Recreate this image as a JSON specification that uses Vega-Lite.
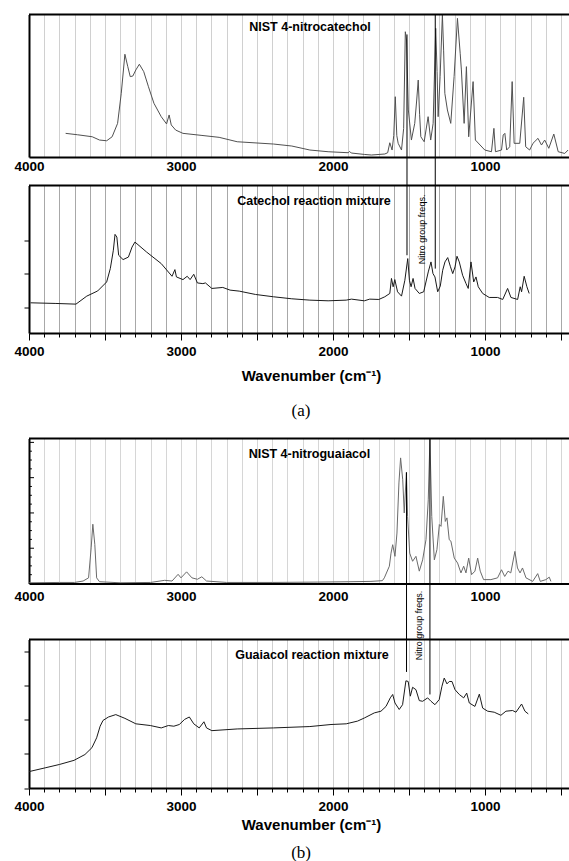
{
  "$schema": "https://vega.github.io/schema/vega-lite/v6.json",
  "background": "white",
  "padding": {"left": 13, "top": 13.5, "right": 0, "bottom": 0},
  "bounds": "flush",
  "spacing": 0,
  "config": {
    "view": {"stroke": null},
    "axis": {
      "labelFont": "Liberation Sans", "labelFontWeight": "bold", "labelFontSize": 13.5, "labelColor": "black",
      "titleFont": "Liberation Sans", "titleColor": "black", "tickColor": "black",
      "domainColor": "black", "domainWidth": 2, "gridWidth": 1, "tickCount": 100
    }
  },
  "datasets": {
    "p1": [
      {"wn": 3759, "v": 16.6}, {"wn": 3680, "v": 15.6}, {"wn": 3584, "v": 14.2}, {"wn": 3536, "v": 11.9}, {"wn": 3489, "v": 11.4},
      {"wn": 3453, "v": 14.2}, {"wn": 3417, "v": 23.6}, {"wn": 3393, "v": 44.7}, {"wn": 3369, "v": 72.1}, {"wn": 3350, "v": 63.4},
      {"wn": 3334, "v": 56.4}, {"wn": 3317, "v": 56.8}, {"wn": 3297, "v": 61.1}, {"wn": 3274, "v": 65.1}, {"wn": 3245, "v": 59.9},
      {"wn": 3214, "v": 49.3}, {"wn": 3178, "v": 37.7}, {"wn": 3130, "v": 28.3}, {"wn": 3095, "v": 23.2}, {"wn": 3078, "v": 29.5},
      {"wn": 3064, "v": 22.5}, {"wn": 3035, "v": 18.9}, {"wn": 2987, "v": 16.6}, {"wn": 2868, "v": 15.2}, {"wn": 2749, "v": 13.8},
      {"wn": 2630, "v": 10.7}, {"wn": 2391, "v": 9.1}, {"wn": 2271, "v": 7.7}, {"wn": 2152, "v": 4.9}, {"wn": 2032, "v": 3.7},
      {"wn": 1900, "v": 3.0}, {"wn": 1890, "v": 3.9}, {"wn": 1880, "v": 2.8}, {"wn": 1794, "v": 1.8}, {"wn": 1747, "v": 1.4},
      {"wn": 1659, "v": 2.1}, {"wn": 1640, "v": 3.0}, {"wn": 1626, "v": 10}, {"wn": 1611, "v": 4.9}, {"wn": 1600, "v": 15},
      {"wn": 1590, "v": 42.3}, {"wn": 1580, "v": 15}, {"wn": 1571, "v": 9.6}, {"wn": 1549, "v": 4.9}, {"wn": 1535, "v": 20},
      {"wn": 1524, "v": 87.9}, {"wn": 1516, "v": 82.1}, {"wn": 1504, "v": 33}, {"wn": 1484, "v": 11.9}, {"wn": 1462, "v": 23.6},
      {"wn": 1449, "v": 40}, {"wn": 1439, "v": 54}, {"wn": 1430, "v": 30}, {"wn": 1422, "v": 14.2}, {"wn": 1400, "v": 10.7},
      {"wn": 1374, "v": 28.3}, {"wn": 1357, "v": 11.9}, {"wn": 1341, "v": 23.6}, {"wn": 1324, "v": 90.3}, {"wn": 1315, "v": 60},
      {"wn": 1308, "v": 28.3}, {"wn": 1295, "v": 56.4}, {"wn": 1280, "v": 100}, {"wn": 1272, "v": 75}, {"wn": 1264, "v": 44.7},
      {"wn": 1247, "v": 33}, {"wn": 1225, "v": 23.6}, {"wn": 1203, "v": 56.4}, {"wn": 1181, "v": 97.3}, {"wn": 1163, "v": 72.8},
      {"wn": 1155, "v": 61.1}, {"wn": 1137, "v": 23.6}, {"wn": 1122, "v": 63.4}, {"wn": 1107, "v": 14.2}, {"wn": 1078, "v": 52.9},
      {"wn": 1063, "v": 11.9}, {"wn": 1001, "v": 4.9}, {"wn": 957, "v": 3.7}, {"wn": 941, "v": 20.1}, {"wn": 931, "v": 3.7},
      {"wn": 891, "v": 4.9}, {"wn": 880, "v": 15.4}, {"wn": 869, "v": 16.6}, {"wn": 857, "v": 4.9}, {"wn": 837, "v": 7.2},
      {"wn": 821, "v": 52.9}, {"wn": 808, "v": 9.6}, {"wn": 771, "v": 9.6}, {"wn": 745, "v": 41.9}, {"wn": 732, "v": 7.2},
      {"wn": 706, "v": 4.9}, {"wn": 684, "v": 9.6}, {"wn": 651, "v": 13.1}, {"wn": 628, "v": 8.4}, {"wn": 607, "v": 11.9},
      {"wn": 580, "v": 6.1}, {"wn": 547, "v": 16.1}, {"wn": 518, "v": 3.7}, {"wn": 475, "v": 2.5}, {"wn": 453, "v": 4.9}
    ],
    "p2": [
      {"wn": 3990, "v": 0.226}, {"wn": 3823, "v": 0.222}, {"wn": 3691, "v": 0.218}, {"wn": 3620, "v": 0.266}, {"wn": 3548, "v": 0.297},
      {"wn": 3489, "v": 0.351}, {"wn": 3465, "v": 0.431}, {"wn": 3445, "v": 0.541}, {"wn": 3434, "v": 0.636}, {"wn": 3422, "v": 0.62},
      {"wn": 3410, "v": 0.511}, {"wn": 3381, "v": 0.485}, {"wn": 3346, "v": 0.5}, {"wn": 3322, "v": 0.56}, {"wn": 3303, "v": 0.59},
      {"wn": 3226, "v": 0.53}, {"wn": 3130, "v": 0.461}, {"wn": 3059, "v": 0.385}, {"wn": 3040, "v": 0.425}, {"wn": 3030, "v": 0.381},
      {"wn": 2987, "v": 0.365}, {"wn": 2959, "v": 0.385}, {"wn": 2940, "v": 0.365}, {"wn": 2916, "v": 0.397}, {"wn": 2892, "v": 0.345},
      {"wn": 2856, "v": 0.341}, {"wn": 2839, "v": 0.345}, {"wn": 2797, "v": 0.312}, {"wn": 2725, "v": 0.318}, {"wn": 2677, "v": 0.302},
      {"wn": 2617, "v": 0.296}, {"wn": 2510, "v": 0.276}, {"wn": 2391, "v": 0.262}, {"wn": 2271, "v": 0.25}, {"wn": 2152, "v": 0.242},
      {"wn": 2032, "v": 0.238}, {"wn": 1913, "v": 0.242}, {"wn": 1878, "v": 0.248}, {"wn": 1794, "v": 0.238}, {"wn": 1758, "v": 0.248},
      {"wn": 1698, "v": 0.246}, {"wn": 1659, "v": 0.262}, {"wn": 1626, "v": 0.282}, {"wn": 1615, "v": 0.372}, {"wn": 1604, "v": 0.322},
      {"wn": 1593, "v": 0.365}, {"wn": 1575, "v": 0.292}, {"wn": 1549, "v": 0.266}, {"wn": 1527, "v": 0.361}, {"wn": 1508, "v": 0.491},
      {"wn": 1497, "v": 0.361}, {"wn": 1486, "v": 0.322}, {"wn": 1473, "v": 0.372}, {"wn": 1460, "v": 0.312}, {"wn": 1432, "v": 0.282},
      {"wn": 1403, "v": 0.292}, {"wn": 1373, "v": 0.411}, {"wn": 1355, "v": 0.471}, {"wn": 1342, "v": 0.401}, {"wn": 1329, "v": 0.381},
      {"wn": 1311, "v": 0.292}, {"wn": 1294, "v": 0.326}, {"wn": 1278, "v": 0.421}, {"wn": 1263, "v": 0.471}, {"wn": 1245, "v": 0.497},
      {"wn": 1228, "v": 0.445}, {"wn": 1212, "v": 0.401}, {"wn": 1197, "v": 0.441}, {"wn": 1184, "v": 0.505}, {"wn": 1169, "v": 0.471},
      {"wn": 1147, "v": 0.391}, {"wn": 1125, "v": 0.342}, {"wn": 1110, "v": 0.312}, {"wn": 1092, "v": 0.471}, {"wn": 1074, "v": 0.351},
      {"wn": 1059, "v": 0.381}, {"wn": 1044, "v": 0.322}, {"wn": 1015, "v": 0.282}, {"wn": 972, "v": 0.258}, {"wn": 917, "v": 0.258},
      {"wn": 883, "v": 0.246}, {"wn": 851, "v": 0.312}, {"wn": 829, "v": 0.258}, {"wn": 785, "v": 0.246}, {"wn": 768, "v": 0.322},
      {"wn": 759, "v": 0.292}, {"wn": 742, "v": 0.385}, {"wn": 724, "v": 0.322}, {"wn": 709, "v": 0.282}
    ],
    "p3": [
      {"wn": 4000, "v": 0.02}, {"wn": 3800, "v": 0.03}, {"wn": 3700, "v": 0.03}, {"wn": 3644, "v": 0.07}, {"wn": 3608, "v": 0.16},
      {"wn": 3591, "v": 1.01}, {"wn": 3580, "v": 1.68}, {"wn": 3567, "v": 1.11}, {"wn": 3555, "v": 0.16}, {"wn": 3536, "v": 0.05},
      {"wn": 3400, "v": 0.02}, {"wn": 3200, "v": 0.03}, {"wn": 3107, "v": 0.09}, {"wn": 3059, "v": 0.07}, {"wn": 3019, "v": 0.26},
      {"wn": 3000, "v": 0.16}, {"wn": 2963, "v": 0.33}, {"wn": 2928, "v": 0.16}, {"wn": 2892, "v": 0.12}, {"wn": 2863, "v": 0.19},
      {"wn": 2832, "v": 0.07}, {"wn": 2700, "v": 0.03}, {"wn": 2400, "v": 0.03}, {"wn": 2100, "v": 0.04}, {"wn": 1900, "v": 0.05},
      {"wn": 1750, "v": 0.06}, {"wn": 1675, "v": 0.08}, {"wn": 1662, "v": 0.16}, {"wn": 1629, "v": 0.49}, {"wn": 1618, "v": 0.86},
      {"wn": 1607, "v": 1.1}, {"wn": 1592, "v": 0.77}, {"wn": 1579, "v": 1.43}, {"wn": 1566, "v": 2.85}, {"wn": 1555, "v": 3.56},
      {"wn": 1541, "v": 2.94}, {"wn": 1531, "v": 2.0}, {"wn": 1517, "v": 3.15}, {"wn": 1509, "v": 1.9}, {"wn": 1495, "v": 0.86},
      {"wn": 1476, "v": 0.63}, {"wn": 1454, "v": 0.77}, {"wn": 1432, "v": 0.35}, {"wn": 1410, "v": 0.67}, {"wn": 1388, "v": 1.24},
      {"wn": 1373, "v": 2.37}, {"wn": 1362, "v": 4.09}, {"wn": 1350, "v": 1.9}, {"wn": 1333, "v": 0.67}, {"wn": 1316, "v": 0.96},
      {"wn": 1300, "v": 1.67}, {"wn": 1289, "v": 1.62}, {"wn": 1274, "v": 2.47}, {"wn": 1261, "v": 1.76}, {"wn": 1250, "v": 1.86},
      {"wn": 1235, "v": 1.24}, {"wn": 1224, "v": 1.2}, {"wn": 1202, "v": 0.72}, {"wn": 1180, "v": 0.58}, {"wn": 1158, "v": 0.3},
      {"wn": 1140, "v": 0.49}, {"wn": 1125, "v": 0.3}, {"wn": 1107, "v": 0.72}, {"wn": 1088, "v": 0.25}, {"wn": 1066, "v": 0.35},
      {"wn": 1048, "v": 0.72}, {"wn": 1031, "v": 0.35}, {"wn": 1009, "v": 0.11}, {"wn": 961, "v": 0.11}, {"wn": 917, "v": 0.16},
      {"wn": 891, "v": 0.39}, {"wn": 870, "v": 0.2}, {"wn": 848, "v": 0.35}, {"wn": 830, "v": 0.3}, {"wn": 803, "v": 0.91},
      {"wn": 786, "v": 0.44}, {"wn": 769, "v": 0.3}, {"wn": 753, "v": 0.44}, {"wn": 730, "v": 0.16}, {"wn": 686, "v": 0.06},
      {"wn": 653, "v": 0.28}, {"wn": 636, "v": 0.06}, {"wn": 599, "v": 0.11}, {"wn": 577, "v": 0.18}, {"wn": 566, "v": 0.06}
    ],
    "p3ticks": [
      {"t": 0.25}, {"t": 0.5}, {"t": 0.75}, {"t": 1}, {"t": 1.25}, {"t": 1.5}, {"t": 1.75}, {"t": 2},
      {"t": 2.25}, {"t": 2.5}, {"t": 2.75}, {"t": 3}, {"t": 3.25}, {"t": 3.5}, {"t": 3.75}, {"t": 4}
    ],
    "p4": [
      {"wn": 4000, "v": 0.48}, {"wn": 3894, "v": 0.59}, {"wn": 3799, "v": 0.69}, {"wn": 3704, "v": 0.81}, {"wn": 3632, "v": 0.98},
      {"wn": 3586, "v": 1.18}, {"wn": 3555, "v": 1.47}, {"wn": 3532, "v": 1.81}, {"wn": 3513, "v": 1.98}, {"wn": 3477, "v": 2.08},
      {"wn": 3429, "v": 2.15}, {"wn": 3369, "v": 2.04}, {"wn": 3297, "v": 1.88}, {"wn": 3202, "v": 1.83}, {"wn": 3130, "v": 1.76},
      {"wn": 3083, "v": 1.83}, {"wn": 3047, "v": 1.81}, {"wn": 3011, "v": 1.86}, {"wn": 2976, "v": 2.01}, {"wn": 2945, "v": 2.08},
      {"wn": 2916, "v": 1.88}, {"wn": 2880, "v": 1.76}, {"wn": 2849, "v": 1.94}, {"wn": 2832, "v": 1.76}, {"wn": 2797, "v": 1.68},
      {"wn": 2630, "v": 1.73}, {"wn": 2391, "v": 1.76}, {"wn": 2152, "v": 1.8}, {"wn": 2013, "v": 1.86}, {"wn": 1913, "v": 1.88},
      {"wn": 1838, "v": 1.96}, {"wn": 1794, "v": 2.05}, {"wn": 1728, "v": 2.2}, {"wn": 1684, "v": 2.25}, {"wn": 1651, "v": 2.39},
      {"wn": 1623, "v": 2.64}, {"wn": 1607, "v": 2.74}, {"wn": 1592, "v": 2.49}, {"wn": 1564, "v": 2.3}, {"wn": 1542, "v": 2.44},
      {"wn": 1520, "v": 3.14}, {"wn": 1505, "v": 3.12}, {"wn": 1491, "v": 2.69}, {"wn": 1476, "v": 2.95}, {"wn": 1454, "v": 2.88},
      {"wn": 1432, "v": 2.56}, {"wn": 1410, "v": 2.54}, {"wn": 1377, "v": 2.64}, {"wn": 1355, "v": 2.54}, {"wn": 1329, "v": 2.44},
      {"wn": 1301, "v": 2.59}, {"wn": 1283, "v": 2.98}, {"wn": 1268, "v": 3.22}, {"wn": 1250, "v": 3.05}, {"wn": 1235, "v": 3.12},
      {"wn": 1217, "v": 3.12}, {"wn": 1197, "v": 2.88}, {"wn": 1169, "v": 2.74}, {"wn": 1140, "v": 2.64}, {"wn": 1120, "v": 2.78},
      {"wn": 1103, "v": 2.49}, {"wn": 1066, "v": 2.39}, {"wn": 1037, "v": 2.75}, {"wn": 1015, "v": 2.34}, {"wn": 982, "v": 2.25},
      {"wn": 939, "v": 2.22}, {"wn": 895, "v": 2.13}, {"wn": 862, "v": 2.25}, {"wn": 818, "v": 2.27}, {"wn": 796, "v": 2.22},
      {"wn": 759, "v": 2.46}, {"wn": 737, "v": 2.25}, {"wn": 715, "v": 2.17}
    ],
    "nitro_a": [{"wn": 1513, "top1": 86, "bot2": 0.511}, {"wn": 1327, "top1": 100, "bot2": 0.431}],
    "nitro_b": [{"wn": 1516, "top3": 3.15, "bot4": 3.4}, {"wn": 1362, "top3": 4.11, "bot4": 2.74}]
  },
  "vconcat": [
    {
      "width": 540, "height": 142.5,
      "layer": [
        {
          "data": {"name": "p1"},
          "mark": {"type": "line", "color": "#505050", "strokeWidth": 1, "clip": true},
          "encoding": {
            "x": {"field": "wn", "type": "quantitative", "scale": {"domain": [447, 4000], "reverse": true, "nice": false, "zero": false},
              "axis": {"values": [4000,3900,3800,3700,3600,3500,3400,3300,3200,3100,3000,2900,2800,2700,2600,2500,2400,2300,2200,2100,2000,1900,1800,1700,1600,1500,1400,1300,1200,1100,1000,900,800,700,600,500],
                "tickCount": 100, "format": "d", "labelExpr": "datum.value % 1000 === 0 ? datum.label : ''", "labelFlush": false, "labelOverlap": false,
                "labelBaseline": "middle", "labelPadding": 9.5, "ticks": false, "tickSize": 0, "grid": true, "gridColor": "#d0d0d0", "title": null}},
            "y": {"field": "v", "type": "quantitative", "scale": {"domain": [0, 100], "nice": false, "zero": false},
              "axis": {"ticks": false, "labels": false, "grid": false, "title": null}}
          }
        },
        {"data": {"values": [{}]}, "mark": {"type": "rule", "color": "black", "strokeWidth": 2}, "encoding": {"y": {"datum": 100, "type": "quantitative"}}},
        {
          "data": {"name": "nitro_a"},
          "mark": {"type": "rule", "color": "black", "strokeWidth": 1},
          "encoding": {"x": {"field": "wn", "type": "quantitative"}, "y": {"field": "top1", "type": "quantitative"}, "y2": {"datum": 0}}
        },
        {
          "data": {"values": [{"wn": 2151, "v": 91.4, "label": "NIST 4-nitrocatechol"}]},
          "mark": {"type": "text", "font": "Liberation Sans", "fontWeight": "bold", "fontSize": 12.5, "color": "black"},
          "encoding": {"x": {"field": "wn", "type": "quantitative"}, "y": {"field": "v", "type": "quantitative"}, "text": {"field": "label", "type": "nominal"}}
        }
      ]
    },
    {
      "width": 540, "height": 28,
      "data": {"name": "nitro_a"},
      "mark": {"type": "rule", "color": "black", "strokeWidth": 1},
      "encoding": {
        "x": {"field": "wn", "type": "quantitative", "scale": {"domain": [447, 4000], "reverse": true, "nice": false, "zero": false}, "axis": null}
      }
    },
    {
      "width": 540, "height": 147.5,
      "layer": [
        {
          "data": {"name": "p2"},
          "mark": {"type": "line", "color": "#1a1a1a", "strokeWidth": 1, "clip": true},
          "encoding": {
            "x": {"field": "wn", "type": "quantitative", "scale": {"domain": [447, 4000], "reverse": true, "nice": false, "zero": false},
              "axis": {"values": [4000,3900,3800,3700,3600,3500,3400,3300,3200,3100,3000,2900,2800,2700,2600,2500,2400,2300,2200,2100,2000,1900,1800,1700,1600,1500,1400,1300,1200,1100,1000,900,800,700,600,500],
                "tickCount": 100, "format": "d", "labelExpr": "datum.value % 1000 === 0 ? datum.label : ''", "labelFlush": false, "labelOverlap": false,
                "labelBaseline": "middle", "labelPadding": 11.5, "ticks": true,
                "tickSize": {"condition": {"test": "datum.value % 500 === 0", "value": 7}, "value": 4},
                "grid": true, "gridColor": "#a8a8a8",
                "title": "Wavenumber (cm⁻¹)", "titleFontSize": 15, "titleFontWeight": "bold", "titleX": 282, "titleY": 42.5,
                "titleBaseline": "middle", "titleAlign": "center"}},
            "y": {"field": "v", "type": "quantitative", "scale": {"domain": [0.045, 0.929], "nice": false, "zero": false},
              "axis": {"values": [0.2, 0.4, 0.6], "tickCount": 100, "ticks": true, "tickSize": 5, "labels": false, "grid": false, "title": null}}
          }
        },
        {"data": {"values": [{}]}, "mark": {"type": "rule", "color": "black", "strokeWidth": 2}, "encoding": {"y": {"datum": 0.929, "type": "quantitative"}}},
        {
          "data": {"name": "nitro_a"},
          "mark": {"type": "rule", "color": "black", "strokeWidth": 1},
          "encoding": {"x": {"field": "wn", "type": "quantitative"}, "y": {"field": "bot2", "type": "quantitative"}, "y2": {"datum": 0.929}}
        },
        {
          "data": {"values": [{"wn": 1414, "v": 0.666, "label": "Nitro group freqs."}]},
          "mark": {"type": "text", "font": "Liberation Sans", "fontSize": 9, "angle": 270, "color": "black"},
          "encoding": {"x": {"field": "wn", "type": "quantitative"}, "y": {"field": "v", "type": "quantitative"}, "text": {"field": "label", "type": "nominal"}}
        },
        {
          "data": {"values": [{"wn": 2125, "v": 0.835, "label": "Catechol reaction mixture"}]},
          "mark": {"type": "text", "font": "Liberation Sans", "fontWeight": "bold", "fontSize": 12.5, "color": "black"},
          "encoding": {"x": {"field": "wn", "type": "quantitative"}, "y": {"field": "v", "type": "quantitative"}, "text": {"field": "label", "type": "nominal"}}
        }
      ]
    },
    {
      "width": 540, "height": 105,
      "data": {"values": [{"wn": 2210, "v": 0.262, "label": "(a)"}]},
      "mark": {"type": "text", "font": "Liberation Serif", "fontSize": 17, "color": "black"},
      "encoding": {
        "x": {"field": "wn", "type": "quantitative", "scale": {"domain": [447, 4000], "reverse": true, "nice": false, "zero": false}, "axis": null},
        "y": {"field": "v", "type": "quantitative", "scale": {"domain": [0, 1]}, "axis": null},
        "text": {"field": "label", "type": "nominal"}
      }
    },
    {
      "width": 540, "height": 145,
      "layer": [
        {
          "data": {"name": "p3"},
          "mark": {"type": "line", "color": "#6a6a6a", "strokeWidth": 1, "clip": true},
          "encoding": {
            "x": {"field": "wn", "type": "quantitative", "scale": {"domain": [447, 4000], "reverse": true, "nice": false, "zero": false},
              "axis": {"values": [4000,3900,3800,3700,3600,3500,3400,3300,3200,3100,3000,2900,2800,2700,2600,2500,2400,2300,2200,2100,2000,1900,1800,1700,1600,1500,1400,1300,1200,1100,1000,900,800,700,600,500],
                "tickCount": 100, "format": "d", "labelExpr": "datum.value % 1000 === 0 ? datum.label : ''", "labelFlush": false, "labelOverlap": false,
                "labelBaseline": "middle", "labelPadding": 12.5, "ticks": false, "tickSize": 0, "grid": true, "gridColor": "#d6d6d6", "title": null}},
            "y": {"field": "v", "type": "quantitative", "scale": {"domain": [0, 4.11], "nice": false, "zero": false},
              "axis": {"ticks": false, "labels": false, "grid": false, "title": null}}
          }
        },
        {"data": {"values": [{}]}, "mark": {"type": "rule", "color": "black", "strokeWidth": 2}, "encoding": {"y": {"datum": 4.11, "type": "quantitative"}}},
        {
          "data": {"name": "p3ticks"},
          "transform": [{"filter": "datum.t % 1 === 0"}],
          "mark": {"type": "rule", "color": "black", "strokeWidth": 1},
          "encoding": {"x": {"datum": 4000, "type": "quantitative"}, "x2": {"datum": 3967}, "y": {"field": "t", "type": "quantitative"}}
        },
        {
          "data": {"name": "p3ticks"},
          "transform": [{"filter": "datum.t % 1 !== 0"}],
          "mark": {"type": "rule", "color": "black", "strokeWidth": 1},
          "encoding": {"x": {"datum": 4000, "type": "quantitative"}, "x2": {"datum": 3981}, "y": {"field": "t", "type": "quantitative"}}
        },
        {
          "data": {"name": "nitro_b"},
          "mark": {"type": "rule", "color": "black", "strokeWidth": 1},
          "encoding": {"x": {"field": "wn", "type": "quantitative"}, "y": {"field": "top3", "type": "quantitative"}, "y2": {"datum": 0}}
        },
        {
          "data": {"values": [{"wn": 2155, "v": 3.66, "label": "NIST 4-nitroguaiacol"}]},
          "mark": {"type": "text", "font": "Liberation Sans", "fontWeight": "bold", "fontSize": 12.5, "color": "black"},
          "encoding": {"x": {"field": "wn", "type": "quantitative"}, "y": {"field": "v", "type": "quantitative"}, "text": {"field": "label", "type": "nominal"}}
        }
      ]
    },
    {
      "width": 540, "height": 55.5,
      "layer": [
        {
          "data": {"name": "nitro_b"},
          "mark": {"type": "rule", "color": "black", "strokeWidth": 1},
          "encoding": {
            "x": {"field": "wn", "type": "quantitative", "scale": {"domain": [447, 4000], "reverse": true, "nice": false, "zero": false}, "axis": null}
          }
        },
        {
          "data": {"values": [{"wn": 1434, "v": 0.243, "label": "Nitro group freqs."}]},
          "mark": {"type": "text", "font": "Liberation Sans", "fontSize": 9, "angle": 270, "color": "black"},
          "encoding": {
            "x": {"field": "wn", "type": "quantitative"},
            "y": {"field": "v", "type": "quantitative", "scale": {"domain": [0, 1]}, "axis": null},
            "text": {"field": "label", "type": "nominal"}
          }
        }
      ]
    },
    {
      "width": 540, "height": 148.5,
      "layer": [
        {
          "data": {"name": "p4"},
          "mark": {"type": "line", "color": "#1a1a1a", "strokeWidth": 1, "clip": true},
          "encoding": {
            "x": {"field": "wn", "type": "quantitative", "scale": {"domain": [447, 4000], "reverse": true, "nice": false, "zero": false},
              "axis": {"values": [4000,3900,3800,3700,3600,3500,3400,3300,3200,3100,3000,2900,2800,2700,2600,2500,2400,2300,2200,2100,2000,1900,1800,1700,1600,1500,1400,1300,1200,1100,1000,900,800,700,600,500],
                "tickCount": 100, "format": "d", "labelExpr": "datum.value % 1000 === 0 ? datum.label : ''", "labelFlush": false, "labelOverlap": false,
                "labelBaseline": "middle", "labelPadding": 11.5, "ticks": true,
                "tickSize": {"condition": {"test": "datum.value % 500 === 0", "value": 7}, "value": 4},
                "grid": true, "gridColor": "#cfcfcf",
                "title": "Wavenumber (cm⁻¹)", "titleFontSize": 15, "titleFontWeight": "bold", "titleX": 282, "titleY": 36,
                "titleBaseline": "middle", "titleAlign": "center"}},
            "y": {"field": "v", "type": "quantitative", "scale": {"domain": [0, 4.35], "nice": false, "zero": false},
              "axis": {"values": [0, 1, 2, 3, 4], "tickCount": 100, "ticks": true, "tickSize": 5, "labels": false, "grid": false, "title": null}}
          }
        },
        {"data": {"values": [{}]}, "mark": {"type": "rule", "color": "black", "strokeWidth": 2}, "encoding": {"y": {"datum": 4.35, "type": "quantitative"}}},
        {
          "data": {"name": "nitro_b"},
          "mark": {"type": "rule", "color": "black", "strokeWidth": 1},
          "encoding": {"x": {"field": "wn", "type": "quantitative"}, "y": {"field": "bot4", "type": "quantitative"}, "y2": {"datum": 4.35}}
        },
        {
          "data": {"values": [{"wn": 2138, "v": 3.91, "label": "Guaiacol reaction mixture"}]},
          "mark": {"type": "text", "font": "Liberation Sans", "fontWeight": "bold", "fontSize": 12.5, "color": "black"},
          "encoding": {"x": {"field": "wn", "type": "quantitative"}, "y": {"field": "v", "type": "quantitative"}, "text": {"field": "label", "type": "nominal"}}
        }
      ]
    },
    {
      "width": 540, "height": 72,
      "data": {"values": [{"wn": 2210, "v": 0.1, "label": "(b)"}]},
      "mark": {"type": "text", "font": "Liberation Serif", "fontSize": 17, "color": "black"},
      "encoding": {
        "x": {"field": "wn", "type": "quantitative", "scale": {"domain": [447, 4000], "reverse": true, "nice": false, "zero": false}, "axis": null},
        "y": {"field": "v", "type": "quantitative", "scale": {"domain": [0, 1]}, "axis": null},
        "text": {"field": "label", "type": "nominal"}
      }
    }
  ]
}
